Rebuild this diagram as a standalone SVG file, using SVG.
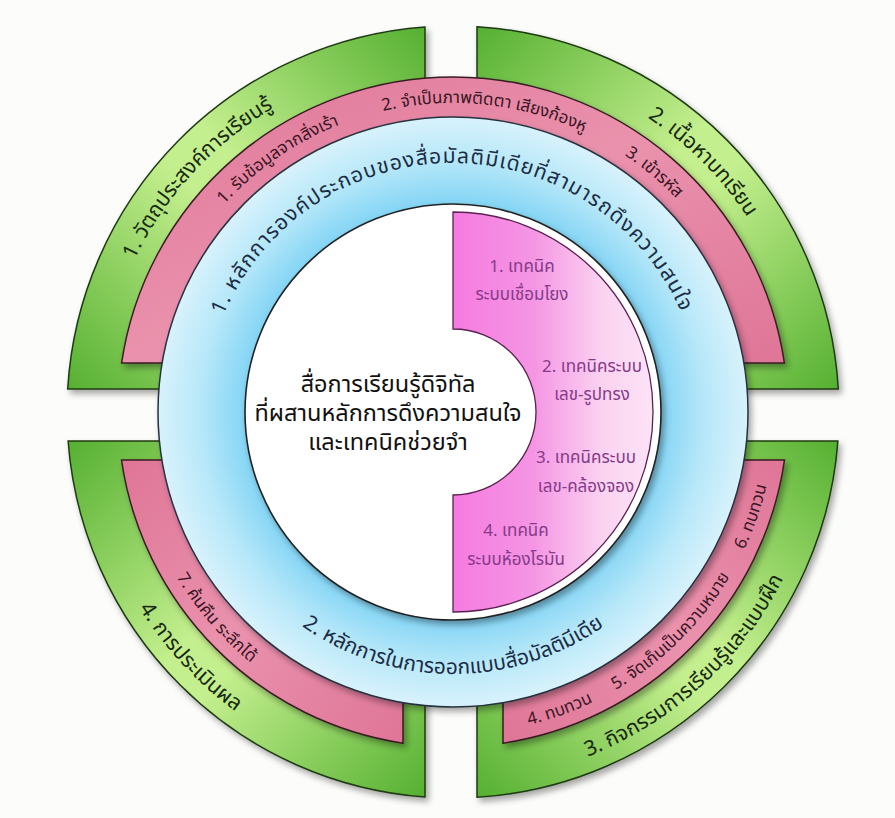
<svg xmlns="http://www.w3.org/2000/svg" width="895" height="818" viewBox="0 0 895 818">
<defs>
<style>
.t{font-family:"Noto Sans Thai","Noto Sans","DejaVu Sans",sans-serif}
.gt{font-size:21px;fill:#18280e}
.pt{font-size:17px;fill:#3a1624}
.bt{font-size:21px;fill:#1c2c44}
.ls{letter-spacing:1.2px}
.ct{font-size:23.5px;fill:#111;text-anchor:middle}
.mt{font-size:17px;fill:#843a88;text-anchor:middle}
.gs{stroke:#1f3a12;stroke-width:1.5}
.ps{stroke:#3a1c24;stroke-width:1.5}
</style>
<filter id="sh" x="-10%" y="-10%" width="130%" height="130%">
<feDropShadow dx="3" dy="4" stdDeviation="3" flood-color="#000" flood-opacity="0.35"/>
</filter>
<linearGradient id="gA" x1="1" y1="0" x2="0" y2="1">
<stop offset="0" stop-color="#55b031"/><stop offset="0.45" stop-color="#c4ef8e"/><stop offset="0.55" stop-color="#c4ef8e"/><stop offset="1" stop-color="#55b031"/>
</linearGradient>
<linearGradient id="gB" x1="0" y1="0" x2="1" y2="1">
<stop offset="0" stop-color="#55b031"/><stop offset="0.45" stop-color="#c4ef8e"/><stop offset="0.55" stop-color="#c4ef8e"/><stop offset="1" stop-color="#55b031"/>
</linearGradient>
<linearGradient id="pG" x1="0" y1="0" x2="1" y2="1">
<stop offset="0" stop-color="#df7597"/><stop offset="0.5" stop-color="#ea92ad"/><stop offset="1" stop-color="#df7597"/>
</linearGradient>
<linearGradient id="pH" x1="1" y1="0" x2="0" y2="1">
<stop offset="0" stop-color="#df7597"/><stop offset="0.5" stop-color="#ea92ad"/><stop offset="1" stop-color="#df7597"/>
</linearGradient>
<radialGradient id="bG" cx="453" cy="412" r="295" gradientUnits="userSpaceOnUse">
<stop offset="0.7" stop-color="#82d4f5"/><stop offset="0.86" stop-color="#b8e8f9"/><stop offset="1" stop-color="#d8f2fc"/>
</radialGradient>
<linearGradient id="mG" x1="453" y1="0" x2="653" y2="0" gradientUnits="userSpaceOnUse">
<stop offset="0" stop-color="#f57be0"/><stop offset="0.4" stop-color="#f595e4"/><stop offset="0.75" stop-color="#fbd3f1"/><stop offset="1" stop-color="#fce3f6"/>
</linearGradient>
<path id="a_g1" d="M108.4,335.6 A353,353 0 0 1 346.8,75.3"/>
<path id="a_g2" d="M573.7,80.3 A353,353 0 0 1 784.7,291.3"/>
<path id="a_g3" d="M500.0,779.0 A370,370 0 0 0 813.9,493.3"/>
<path id="a_g4" d="M101.1,526.3 A370,370 0 0 0 314.4,755.1"/>
<path id="a_p1" d="M194.7,242.4 A309,309 0 0 1 385.1,110.6"/>
<path id="a_p2" d="M337.2,125.5 A309,309 0 0 1 625.8,155.8"/>
<path id="a_p3" d="M583.6,132.0 A309,309 0 0 1 706.1,234.8"/>
<path id="a_p7" d="M152.4,527.4 A322,322 0 0 0 296.9,693.6"/>
<path id="a_p4" d="M507.3,729.4 A322,322 0 0 0 612.5,691.7"/>
<path id="a_p5" d="M598.2,699.4 A322,322 0 0 0 739.4,559.2"/>
<path id="a_p6" d="M733.8,569.6 A322,322 0 0 0 770.8,464.0"/>
<path id="a_b1" d="M204.8,391.6 A249,249 0 0 1 700.9,389.0"/>
<path id="a_b2" d="M252.3,580.4 A262,262 0 0 0 653.7,580.4"/>
</defs>
<rect width="895" height="818" fill="#fcfcfb"/>

<g id="green-objectives">
<path d="M425,389 L67.7,389 A386,386 0 0 1 425,27 Z" fill="url(#gA)" class="gs" filter="url(#sh)"/>
<text class="t gt"><textPath href="#a_g1" startOffset="50%" text-anchor="middle">1. วัตถุประสงค์การเรียนรู้</textPath></text>
</g>
<g id="green-content">
<path d="M477,389 L838.3,389 A386,386 0 0 0 477,26.7 Z" fill="url(#gB)" class="gs" filter="url(#sh)"/>
<text class="t gt"><textPath href="#a_g2" startOffset="50%" text-anchor="middle">2. เนื้อหาบทเรียน</textPath></text>
</g>
<g id="green-activities">
<path d="M477,441 L837.9,441 A386,386 0 0 1 477,797.3 Z" fill="url(#gA)" class="gs" filter="url(#sh)"/>
<text class="t gt"><textPath href="#a_g3" startOffset="50%" text-anchor="middle">3. กิจกรรมการเรียนรู้และแบบฝึก</textPath></text>
</g>
<g id="green-evaluation">
<path d="M425,441 L425,797 A386,386 0 0 1 68.1,441 Z" fill="url(#gB)" class="gs" filter="url(#sh)"/>
<text class="t gt"><textPath href="#a_g4" startOffset="50%" text-anchor="middle">4. การประเมินผล</textPath></text>
</g>

<g id="pink-top">
<path d="M121.6,363 A335,335 0 0 1 784.4,363 Z" fill="url(#pG)" class="ps" filter="url(#sh)"/>
<text class="t pt"><textPath href="#a_p1" startOffset="50%" text-anchor="middle">1. รับข้อมูลจากสิ่งเร้า</textPath></text>
<text class="t pt"><textPath href="#a_p2" startOffset="50%" text-anchor="middle">2. จำเป็นภาพติดตา เสียงก้องหู</textPath></text>
<text class="t pt"><textPath href="#a_p3" startOffset="50%" text-anchor="middle">3. เข้ารหัส</textPath></text>
</g>
<g id="pink-bottom-left">
<path d="M403,460 L121.5,460 A335,335 0 0 0 403,743.2 Z" fill="url(#pG)" class="ps" filter="url(#sh)"/>
<text class="t pt"><textPath href="#a_p7" startOffset="50%" text-anchor="middle">7. ค้นคืน ระลึกได้</textPath></text>
</g>
<g id="pink-bottom-right">
<path d="M503,460 L784.5,460 A335,335 0 0 1 503,743.2 Z" fill="url(#pH)" class="ps" filter="url(#sh)"/>
<text class="t pt"><textPath href="#a_p4" startOffset="50%" text-anchor="middle">4. ทบทวน</textPath></text>
<text class="t pt"><textPath href="#a_p5" startOffset="50%" text-anchor="middle">5. จัดเก็บเป็นความหมาย</textPath></text>
<text class="t pt"><textPath href="#a_p6" startOffset="50%" text-anchor="middle">6. ทบทวน</textPath></text>
</g>

<g id="blue-ring">
<circle cx="453" cy="412" r="295" fill="url(#bG)" stroke="#26323e" stroke-width="1.5" filter="url(#sh)"/>
<text class="t bt ls"><textPath href="#a_b1" startOffset="50%" text-anchor="middle">1. หลักการองค์ประกอบของสื่อมัลติมีเดียที่สามารถดึงความสนใจ</textPath></text>
<text class="t bt"><textPath href="#a_b2" startOffset="50%" text-anchor="middle">2. หลักการในการออกแบบสื่อมัลติมีเดีย</textPath></text>
</g>

<g id="center">
<circle cx="453" cy="412" r="208" fill="#ffffff" stroke="#222" stroke-width="1.6" filter="url(#sh)"/>
<text class="t ct" x="388" y="392">สื่อการเรียนรู้ดิจิทัล</text>
<text class="t ct" x="388" y="421">ที่ผสานหลักการดึงความสนใจ</text>
<text class="t ct" x="388" y="450">และเทคนิคช่วยจำ</text>
</g>

<g id="mnemonics">
<path d="M453,212 A200,200 0 0 1 453,612 L453,495 A83,83 0 0 0 453,329 Z" fill="url(#mG)" stroke="#5a2050" stroke-width="1.3"/>
<text class="t mt" x="522" y="272">1. เทคนิค</text>
<text class="t mt" x="522" y="300">ระบบเชื่อมโยง</text>
<text class="t mt" x="592" y="372">2. เทคนิคระบบ</text>
<text class="t mt" x="592" y="400">เลข-รูปทรง</text>
<text class="t mt" x="586" y="463">3. เทคนิคระบบ</text>
<text class="t mt" x="586" y="492">เลข-คล้องจอง</text>
<text class="t mt" x="516" y="536">4. เทคนิค</text>
<text class="t mt" x="516" y="565">ระบบห้องโรมัน</text>
</g>

<g id="connectors"/>
</svg>
